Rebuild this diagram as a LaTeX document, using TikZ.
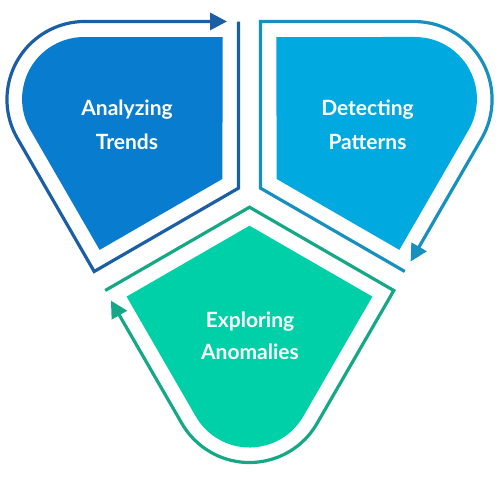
\documentclass[tikz,border=0pt]{standalone}
\usepackage{fontspec}
\setmainfont{Lato}
\usetikzlibrary{arrows.meta}
\definecolor{greenfill}{HTML}{00D0A7}
\definecolor{greenline}{HTML}{15A886}
\definecolor{trendfill}{HTML}{087DD0}
\definecolor{trendline}{HTML}{1A5EA6}
\definecolor{patfill}{HTML}{00A9E0}
\definecolor{patline}{HTML}{1690BF}
\begin{document}
\begin{tikzpicture}[x=1pt,y=1pt,
  outl/.style={line width=3.2pt,-{Triangle[length=17pt,width=17pt]}},
  lbl/.style={text=white,align=center,font=\fontsize{21}{34}\selectfont\bfseries}]
\useasboundingbox (-249.5,-285.5) rectangle (250.5,194.5);
\foreach \rot/\fc/\lc in {0/greenfill/greenline,-120/trendfill/trendline,120/patfill/patline}{
  \begin{scope}[rotate=\rot]
    \fill[\fc] (0,-31.2) -- (122.9,-102.1) -- (53.7,-222)
      arc[start angle=-30,end angle=-150,radius=62pt] -- (-122.9,-102.1) -- cycle;
    \draw[\lc,outl] (-144.3,-96) -- (0,-12.7) -- (144.3,-96) -- (67.5,-229)
      arc[start angle=-30,end angle=-150,radius=78pt] -- (-138.6,-106);
  \end{scope}
}
\node[lbl] (trends) at (-122.5,69.5) {Analyzing\\Trends};
\node[lbl] (patterns) at (118,69.5) {Detecting\\Patterns};
\node[lbl,font=\fontsize{21}{32}\selectfont\bfseries] (anomalies) at (0.5,-141.5) {Exploring\\Anomalies};
\end{tikzpicture}
\end{document}
